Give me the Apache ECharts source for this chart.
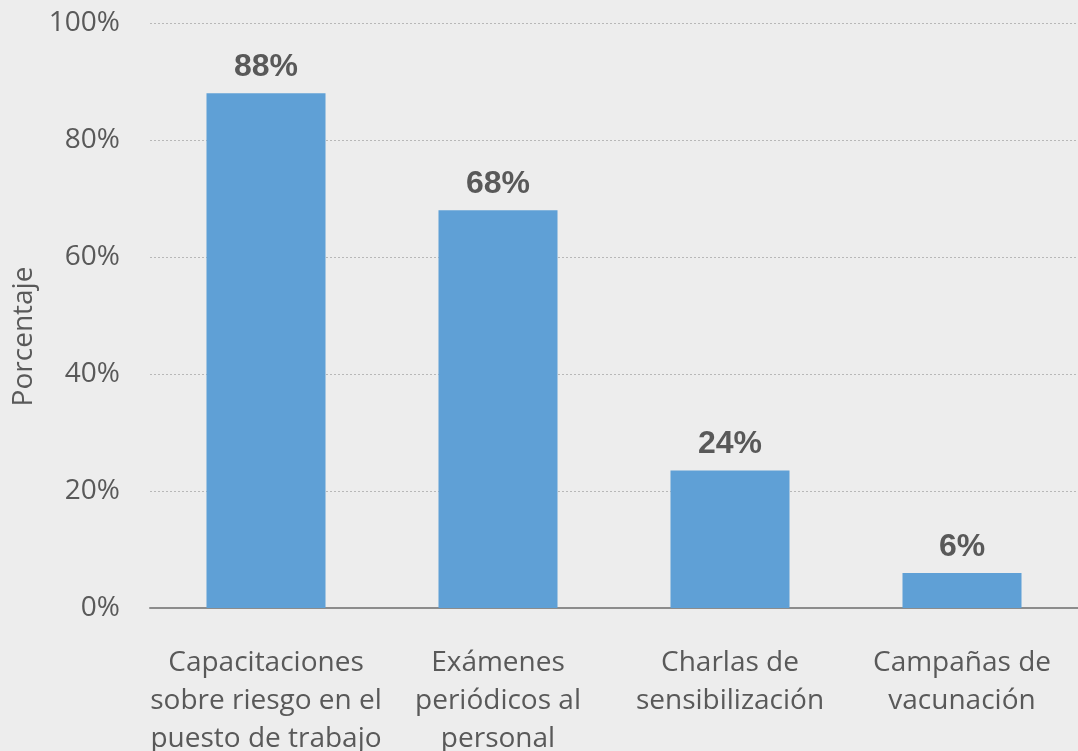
<!DOCTYPE html>
<html>
<head>
<meta charset="utf-8">
<script src="https://cdn.jsdelivr.net/npm/echarts@6/dist/echarts.min.js"></script>
<style>
	html, body { margin: 0; padding: 0; background: #ededed; }
	#barChart { width: 1078px; height: 751px; }
</style>
</head>
<body>
<div id="barChart"></div>
<script>
var categories = [
	'Capacitaciones\nsobre riesgo en el\npuesto de trabajo',
	'Exámenes\nperiódicos al\npersonal',
	'Charlas de\nsensibilización',
	'Campañas de\nvacunación'
];
var values = [88, 68, 23.5, 6];
var yTicks = [0, 20, 40, 60, 80, 100];

var barChart = echarts.init(document.getElementById('barChart'));

var barOption = {
	backgroundColor: '#ededed',
	animation: false,
	grid: {
		left: 150,
		right: 0,
		top: 23,
		bottom: 143,
		outerBoundsMode: 'none'
	},
	xAxis: {
		type: 'category',
		data: categories,
		axisTick: { show: false },
		axisLine: { lineStyle: { color: '#8c8c8c', width: 2 } },
		axisLabel: {
			color: '#595959',
			fontFamily: 'Open Sans',
			fontSize: 28,
			lineHeight: 38,
			margin: 36,
			interval: 0
		}
	},
	yAxis: {
		type: 'value',
		min: yTicks[0],
		max: yTicks[yTicks.length - 1],
		interval: 20,
		name: 'Porcentaje',
		nameLocation: 'middle',
		nameGap: 112,
		nameTextStyle: {
			color: '#595959',
			fontFamily: 'Open Sans',
			fontSize: 28,
			padding: [0, 42, 0, 0]
		},
		axisLine: { show: false },
		axisTick: { show: false },
		splitLine: { lineStyle: { color: '#b8b8b8', type: [2, 2], width: 1 } },
		axisLabel: {
			color: '#595959',
			fontFamily: 'Open Sans',
			fontSize: 28,
			margin: 30,
			formatter: '{value}%'
		}
	},
	series: [{
		type: 'bar',
		data: values,
		barWidth: 119,
		itemStyle: { color: '#5fa0d6' },
		label: {
			show: true,
			position: 'top',
			distance: 10,
			color: '#595959',
			fontFamily: 'Liberation Sans',
			fontWeight: 'bold',
			fontSize: 32,
			formatter: function (p) { return Math.round(p.value) + '%'; }
		}
	}]
};

barChart.setOption(barOption);
</script>
</body>
</html>
